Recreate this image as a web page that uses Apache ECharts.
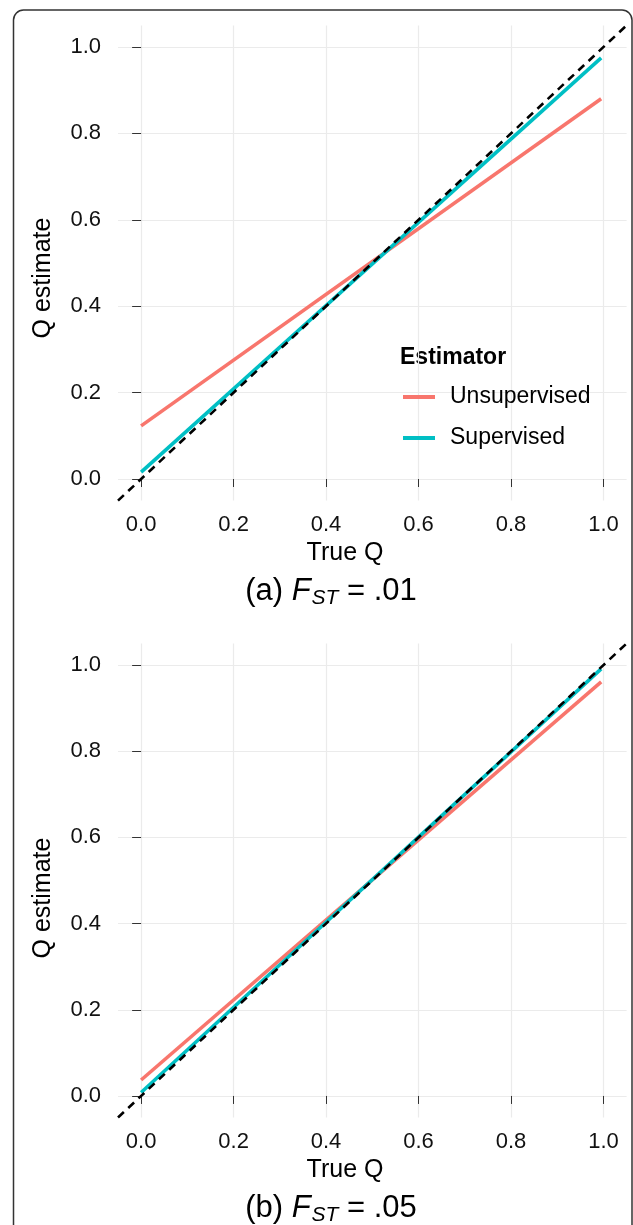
<!DOCTYPE html>
<html>
<head>
<meta charset="utf-8">
<script src="https://cdn.jsdelivr.net/npm/echarts@6/dist/echarts.min.js"></script>
<style>
html,body{margin:0;padding:0;background:#fff;}
#chart{width:633px;height:1225px;}
</style>
</head>
<body>
<div id="chart"></div>
<script>
// ---- data ----
var trueQ = [0, 0.995];
var unsupA = [0.123, 0.880];
var supA = [0.016, 0.975];
var unsupB = [0.037, 0.961];
var supB = [0.008, 0.991];
var refX = [-0.05, 1.05];
var tickVals = [0, 0.2, 0.4, 0.6, 0.8, 1.0];
var tickLabels = ['0.0', '0.2', '0.4', '0.6', '0.8', '1.0'];
var seriesNames = ['Unsupervised', 'Supervised'];
var captions = [['(a) ', '.01'], ['(b) ', '.05']];

var RED = '#F8766D', TEAL = '#00BFC4';
var FONT = 'Liberation Sans, Arial, Helvetica, sans-serif';

function pairs(xs, ys) { return xs.map(function (x, i) { return [x, ys[i]]; }); }

var grids = [
  { left: 118, width: 508.6, top: 25.4, height: 475.2 },
  { left: 118, width: 508.6, top: 643.5, height: 474 }
];

function fmt(v) {
  var i = tickVals.indexOf(Math.round(v * 10) / 10);
  return i >= 0 ? tickLabels[i] : '';
}

function xAxis(gi) {
  return {
    type: 'value', gridIndex: gi, min: -0.05, max: 1.05,
    axisLine: { show: false },
    axisTick: { show: true, length: 8, customValues: tickVals, lineStyle: { color: '#333', width: 1 } },
    axisLabel: { customValues: tickVals, formatter: fmt, margin: 13, fontSize: 22, color: '#111', fontFamily: FONT },
    splitLine: { show: true, lineStyle: { color: '#ebebeb', width: 1.2 } }
  };
}
function yAxis(gi) {
  return {
    type: 'value', gridIndex: gi, min: -0.05, max: 1.05,
    axisLine: { show: false },
    axisTick: { show: true, length: 9, customValues: tickVals, lineStyle: { color: '#333', width: 1 } },
    axisLabel: { customValues: tickVals, formatter: fmt, margin: 17, fontSize: 22, color: '#111', fontFamily: FONT },
    splitLine: { show: true, lineStyle: { color: '#ebebeb', width: 1.2 } }
  };
}

function lineSeries(name, gi, xs, ys, color) {
  return {
    name: name, type: 'line', xAxisIndex: gi, yAxisIndex: gi,
    data: pairs(xs, ys), showSymbol: false, symbol: 'none',
    lineStyle: { color: color, width: 3.6 }, itemStyle: { color: color },
    animation: false, z: 2
  };
}
function refSeries(gi) {
  return {
    type: 'line', xAxisIndex: gi, yAxisIndex: gi,
    data: pairs(refX, refX), showSymbol: false, symbol: 'none',
    lineStyle: { color: '#000', width: 2.6, type: [8, 6] },
    animation: false, z: 3, silent: true
  };
}

function caption(idx, cy) {
  return {
    type: 'text', x: 331, y: cy,
    style: {
      text: '{n|' + captions[idx][0] + '}{i|F}{s|ST}{n| = ' + captions[idx][1] + '}',
      align: 'center', verticalAlign: 'middle',
      rich: {
        n: { fontSize: 31, fontFamily: FONT, fill: '#000' },
        i: { fontSize: 31, fontFamily: FONT, fontStyle: 'italic', fill: '#000' },
        s: { fontSize: 21, fontFamily: FONT, fontStyle: 'italic', fill: '#000', verticalAlign: 'bottom', padding: [14, 0, 0, 1] }
      }
    }
  };
}
function titleText(txt, x, y, rot) {
  return {
    type: 'text', x: x, y: y, rotation: rot || 0,
    style: { text: txt, fontSize: 25, fontFamily: FONT, fill: '#000', align: 'center', verticalAlign: 'middle' }
  };
}

var chart = echarts.init(document.getElementById('chart'), null, { renderer: 'canvas' });
chart.setOption({
  animation: false,
  backgroundColor: '#fff',
  grid: grids,
  xAxis: [xAxis(0), xAxis(1)],
  yAxis: [yAxis(0), yAxis(1)],
  legend: {
    data: seriesNames, orient: 'vertical', left: 403, top: 385, padding: 0,
    icon: 'rect', itemWidth: 32, itemHeight: 4, itemGap: 17,
    textStyle: { fontSize: 23, fontFamily: FONT, color: '#000', lineHeight: 24, padding: [0, 0, 0, 10] },
    selectedMode: false
  },
  series: [
    lineSeries(seriesNames[0], 0, trueQ, unsupA, RED),
    lineSeries(seriesNames[1], 0, trueQ, supA, TEAL),
    refSeries(0),
    lineSeries(seriesNames[0], 1, trueQ, unsupB, RED),
    lineSeries(seriesNames[1], 1, trueQ, supB, TEAL),
    refSeries(1)
  ],
  graphic: [
    { type: 'rect', shape: { x: 13.5, y: 10, width: 618.5, height: 1300, r: 10 },
      style: { fill: 'none', stroke: '#333', lineWidth: 1.5 }, silent: true },
    { type: 'text', x: 400, y: 358,
      style: { text: 'Estimator', fontSize: 23, fontWeight: 'bold', fontFamily: FONT, fill: '#000', verticalAlign: 'middle' } },
    titleText('True Q', 345, 553),
    titleText('True Q', 345, 1170),
    titleText('Q estimate', 43, 278, Math.PI / 2),
    titleText('Q estimate', 43, 898, Math.PI / 2),
    caption(0, 591),
    caption(1, 1208)
  ]
});
</script>
</body>
</html>
